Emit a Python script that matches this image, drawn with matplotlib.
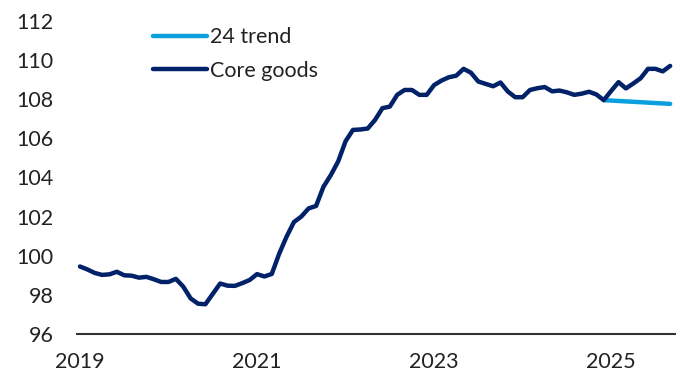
import numpy as np
import matplotlib
matplotlib.use("Agg")
import matplotlib.pyplot as plt

# monthly index, Jan 2019 .. Sep 2025
core_goods = [
    99.45, 99.3, 99.12, 99.02, 99.05, 99.18, 99.0, 98.98, 98.88, 98.92,
    98.8, 98.66, 98.66, 98.82, 98.42, 97.82, 97.55, 97.52, 98.05, 98.58,
    98.47, 98.46, 98.6, 98.76, 99.06, 98.94, 99.07, 100.1, 100.97, 101.72,
    102.0, 102.42, 102.54, 103.52, 104.12, 104.82, 105.85, 106.43, 106.45, 106.5,
    106.94, 107.54, 107.62, 108.22, 108.47, 108.47, 108.22, 108.22, 108.72, 108.95,
    109.12, 109.2, 109.55, 109.35, 108.9, 108.78, 108.66, 108.85, 108.39, 108.1,
    108.1, 108.47, 108.56, 108.62, 108.4, 108.44, 108.35, 108.22, 108.28, 108.38,
    108.24, 107.95, 108.42, 108.87, 108.55, 108.8, 109.07, 109.55, 109.55, 109.42,
    109.7,
]
months = 2019 + np.arange(len(core_goods)) / 12

trend_months = [2019 + 71 / 12, 2019 + 80 / 12]
trend_24 = [107.95, 107.76]

year_ticks = [2019, 2021, 2023, 2025]
y_ticks = [96, 98, 100, 102, 104, 106, 108, 110, 112]

navy = "#012169"
light_blue = "#0a9fdd"
text_col = "#222222"

plt.rcParams["font.family"] = ["Lato", "DejaVu Sans"]

fig = plt.figure(figsize=(6.86, 3.75), dpi=100)
ax = fig.add_axes([0.1122, 0.1093, 0.872, 0.835])

ax.plot(trend_months, trend_24, color=light_blue, lw=3.2, solid_capstyle="round", label="24 trend", zorder=2)
ax.plot(months, core_goods, color=navy, lw=3.2, solid_capstyle="round", solid_joinstyle="round",
        label="Core goods", zorder=3)

ax.set_ylim(96, 112)
ax.set_xlim(2019 - 3 / 88.5, 2019 + 595 / 88.5)
ax.set_yticks(y_ticks)
ax.set_xticks(year_ticks)
ax.set_xticklabels([str(y) for y in year_ticks])

for s in ["top", "right", "left"]:
    ax.spines[s].set_visible(False)
ax.spines["bottom"].set_color("#333333")
ax.spines["bottom"].set_linewidth(1.5)
ax.tick_params(axis="both", length=0, labelsize=15.5, colors=text_col)
ax.tick_params(axis="y", pad=17)
ax.tick_params(axis="x", pad=13)

leg = ax.legend(loc="upper left", bbox_to_anchor=(0.127, 0.98), frameon=False,
                fontsize=15.5, handlelength=2.5, handletextpad=0.15, labelspacing=0.63,
                borderaxespad=0, borderpad=0)
for t in leg.get_texts():
    t.set_color(text_col)

fig.savefig("out.png", dpi=100)
